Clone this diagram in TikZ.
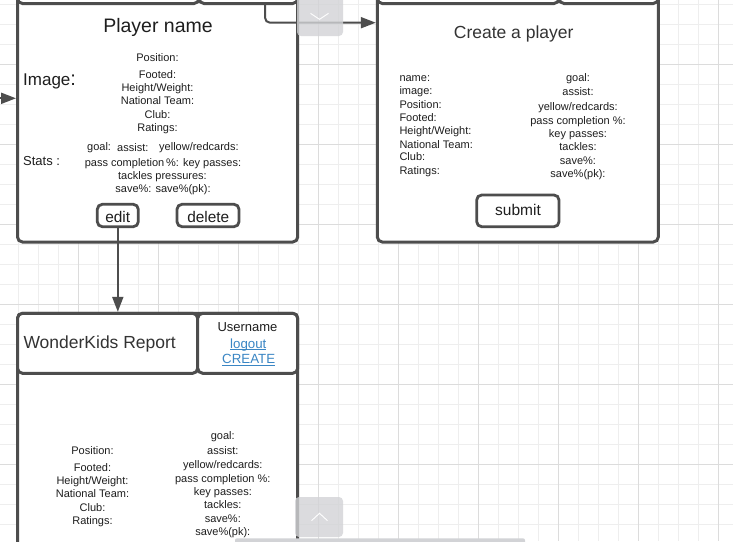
\documentclass[tikz,border=0pt]{standalone}
\usepackage{fontspec}
\setmainfont{Liberation Sans}
\usetikzlibrary{arrows.meta}
\definecolor{ln}{HTML}{4D4D4D}
\definecolor{tx}{HTML}{1E1E1E}
\definecolor{ttl}{HTML}{333333}
\definecolor{lnk}{HTML}{3A86C4}
\definecolor{gminor}{HTML}{EEEEEE}
\definecolor{gmajor}{HTML}{DCDCDC}
\definecolor{ov}{HTML}{D2D3D6}
\newcommand\myul[1]{\setbox0\hbox{#1}\rlap{\rule[-1.6pt]{\wd0}{0.9pt}}\box0}
\begin{document}
\begin{tikzpicture}[x=1pt,y=-1pt,
  boxs/.style={draw=ln, line width=3pt, fill=white, rounded corners=5pt, inner sep=0pt},
  btn/.style={draw=ln, line width=2.8pt, fill=white, rounded corners=5pt, inner sep=0pt},
  txt/.style={inner sep=0pt, text=tx, font=\fontsize{11}{13}\selectfont},
  lbl/.style={inner sep=0pt, text=tx, font=\fontsize{15.4}{18}\selectfont},
  conn/.style={draw=ln, line width=2pt, -{Triangle[length=15pt,width=11pt]}},
  minorl/.style={draw=gminor, line width=0.8pt},
  majorl/.style={draw=gmajor, line width=1pt},
  overlay/.style={fill=ov, fill opacity=0.8, rounded corners=4pt},
  chev/.style={draw=white, line width=0.9pt}]
\useasboundingbox (0,0) rectangle (733,541);
\clip (0,0) rectangle (733,541);
\fill[white] (0,0) rectangle (733,541);
% grid
\foreach \x in {18.3,38.3,...,733} \draw[minorl] (\x,0) -- (\x,541);
\foreach \y in {4,24,...,541} \draw[minorl] (0,\y) -- (733,\y);
\foreach \x in {78.3,158.3,...,733} \draw[majorl] (\x,0) -- (\x,541);
\foreach \y in {64,144,...,541} \draw[majorl] (0,\y) -- (733,\y);

% ---------- Box 1: player detail ----------
\node[boxs, minimum width=280.2pt, minimum height=302pt] (b1) at (157.6,91) {};
\node[boxs, minimum width=181.5pt, minimum height=63.5pt] (b1hl) at (108.25,-28.25) {};
\node[boxs, minimum width=98.7pt, minimum height=63.5pt] (b1hr) at (248.35,-28.25) {};
\node[inner sep=0pt, text=tx, font=\fontsize{19.5}{22}\selectfont, anchor=base] (pname) at (158,32) {Player name};
\node[inner sep=0pt, text=tx, font=\fontsize{17}{20}\selectfont, anchor=base west] (pimg) at (23,85) {Image\fontsize{20}{22}\selectfont:};
\node[txt, anchor=base] (p1) at (157.5,61) {Position:};
\node[txt, anchor=base] (p2) at (157.5,78) {Footed:};
\node[txt, anchor=base] (p3) at (157.5,91.3) {Height/Weight:};
\node[txt, anchor=base] (p4) at (157.5,104.7) {National Team:};
\node[txt, anchor=base] (p5) at (157.5,118) {Club:};
\node[txt, anchor=base] (p6) at (157.5,131.3) {Ratings:};
\node[inner sep=0pt, text=tx, font=\fontsize{13}{15}\selectfont, anchor=base west] (pstats) at (23,165) {Stats :};
\node[txt, anchor=base west] (s1) at (87,150.7) {goal:};
\node[txt, anchor=base west] (s2) at (117,151.7) {assist:};
\node[txt, anchor=base west] (s3) at (159,150.7) {yellow/redcards:};
\node[txt, anchor=base] (s4) at (163,166.3) {pass completion\,\%: key passes:};
\node[txt, anchor=base] (s5) at (162.5,179) {tackles pressures:};
\node[txt, anchor=base] (s6) at (163,192.3) {save\%: save\%(pk):};
\node[btn, minimum width=41pt, minimum height=22.4pt] (edit) at (117.8,215.5) {};
\node[btn, minimum width=62pt, minimum height=22.4pt] (delete) at (208,215.5) {};
\node[lbl, anchor=base] (edittxt) at (117.7,222.8) {edit};
\node[lbl, anchor=base] (deletetxt) at (208.3,222.8) {delete};

% ---------- Box 2: create a player ----------
\node[boxs, minimum width=281pt, minimum height=302pt] (b2) at (517.8,91) {};
\node[boxs, minimum width=181.7pt, minimum height=63.5pt] (b2hl) at (468.15,-28.25) {};
\node[boxs, minimum width=99.3pt, minimum height=63.5pt] (b2hr) at (608.65,-28.25) {};
\node[inner sep=0pt, text=ttl, font=\fontsize{17.5}{20}\selectfont, anchor=base] (ctitle) at (513.7,38) {Create a player};
\node[txt, anchor=base west] (c1) at (399.3,81.3) {name:};
\node[txt, anchor=base west] (c2) at (399.3,94.3) {image:};
\node[txt, anchor=base west] (c3) at (399.3,108.3) {Position:};
\node[txt, anchor=base west] (c4) at (399.3,121.3) {Footed:};
\node[txt, anchor=base west] (c5) at (399.3,134) {Height/Weight:};
\node[txt, anchor=base west] (c6) at (399.3,148.3) {National Team:};
\node[txt, anchor=base west] (c7) at (399.3,160.7) {Club:};
\node[txt, anchor=base west] (c8) at (399.3,174.3) {Ratings:};
\node[txt, anchor=base] (d1) at (578,81.3) {goal:};
\node[txt, anchor=base] (d2) at (578,95.7) {assist:};
\node[txt, anchor=base] (d3) at (578,110.7) {yellow/redcards:};
\node[txt, anchor=base] (d4) at (578,124) {pass completion \%:};
\node[txt, anchor=base] (d5) at (578,137.3) {key passes:};
\node[txt, anchor=base] (d6) at (578,150.7) {tackles:};
\node[txt, anchor=base] (d7) at (578,164.3) {save\%:};
\node[txt, anchor=base] (d8) at (578,177.3) {save\%(pk):};
\node[btn, minimum width=82.3pt, minimum height=31.7pt] (submit) at (517.85,210.85) {};
\node[inner sep=0pt, text=tx, font=\fontsize{15.5}{18}\selectfont, anchor=base] (submittxt) at (518,215) {submit};

% ---------- Box 3: WonderKids report ----------
\node[boxs, minimum width=280.2pt, minimum height=306.7pt] (b3) at (157.6,466.65) {};
\node[boxs, minimum width=180.2pt, minimum height=60pt] (b3hl) at (107.6,343.3) {};
\node[boxs, minimum width=100pt, minimum height=60pt] (b3hr) at (247.7,343.3) {};
\node[inner sep=0pt, text=ttl, font=\fontsize{17.5}{20}\selectfont, anchor=base west] (wk) at (23.3,348.5) {WonderKids Report};
\node[inner sep=0pt, text=tx, font=\fontsize{13}{15}\selectfont, anchor=base] (uname) at (247.5,331.4) {Username};
\node[inner sep=0pt, text=lnk, font=\fontsize{13.3}{15}\selectfont, anchor=base] (logout) at (248.3,348) {\myul{logout}};
\node[inner sep=0pt, text=lnk, font=\fontsize{13.3}{15}\selectfont, anchor=base] (create) at (248.7,363.8) {\myul{CREATE}};
\node[txt, anchor=base] (w1) at (92.5,454.3) {Position:};
\node[txt, anchor=base] (w2) at (92.5,471) {Footed:};
\node[txt, anchor=base] (w3) at (92.5,484.3) {Height/Weight:};
\node[txt, anchor=base] (w4) at (92.5,497.7) {National Team:};
\node[txt, anchor=base] (w5) at (92.5,511) {Club:};
\node[txt, anchor=base] (w6) at (92.5,524) {Ratings:};
\node[txt, anchor=base] (v1) at (222.8,439.7) {goal:};
\node[txt, anchor=base] (v2) at (222.8,454.3) {assist:};
\node[txt, anchor=base] (v3) at (222.8,468) {yellow/redcards:};
\node[txt, anchor=base] (v4) at (222.8,482.3) {pass completion \%:};
\node[txt, anchor=base] (v5) at (222.8,495.3) {key passes:};
\node[txt, anchor=base] (v6) at (222.8,508.3) {tackles:};
\node[txt, anchor=base] (v7) at (222.8,522.7) {save\%:};
\node[txt, anchor=base] (v8) at (222.8,535.3) {save\%(pk):};

% ---------- connectors ----------
\coordinate (a1) at (265,3.5);
\coordinate (a1turn) at (265,22.7);
\draw[conn, rounded corners=5pt] (a1) |- (b2.west |- a1turn);
\coordinate (la) at (-20,98.3);
\draw[conn] (la) -- (b1.west |- la);
\draw[conn] (edit.south) -- (edit.south |- b3hl.north);

% ---------- overlays ----------
\fill[overlay] (297,-10) rectangle (343,36);
\draw[chev] (310.5,13.3) -- (319.5,19.3) -- (328.5,13.3);
\fill[overlay] (295,497) rectangle (343,537);
\draw[chev] (311.5,520.7) -- (319.5,513.3) -- (327.5,520.7);
\fill[fill=ov, rounded corners=2pt] (235,538.3) rectangle (525,546);
\end{tikzpicture}
\end{document}
